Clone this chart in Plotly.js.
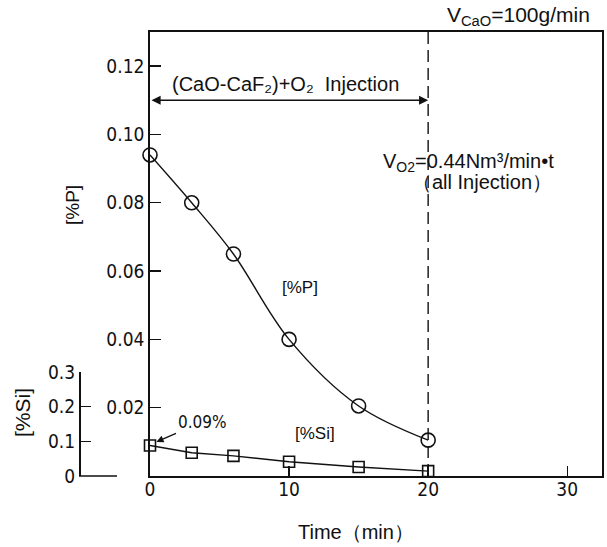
<!DOCTYPE html>
<html>
<head>
<meta charset="utf-8">
<script src="https://cdn.plot.ly/plotly-3.0.1.min.js"></script>
<style>html,body{margin:0;padding:0;background:#fff;}#chart{width:607px;height:547px;}</style>
</head>
<body>
<div id="chart"></div>
<script>
// ---- data ----
const time = [0, 3, 6, 10, 15, 20];
const phosphorus = [0.094, 0.080, 0.065, 0.040, 0.0205, 0.0105];
const silicon = [0.088, 0.067, 0.058, 0.041, 0.026, 0.014];
const timeTicks = [0, 10, 20, 30];
const timeTickText = ['0', '10', '20', '30'];
const pTicks = [0.02, 0.04, 0.06, 0.08, 0.10, 0.12];
const pTickText = ['0.02', '0.04', '0.06', '0.08', '0.10', '0.12'];
const siTicks = [0, 0.1, 0.2, 0.3];
const siTickText = ['0', '0.1', '0.2', '0.3'];
const injectionEnd = 20;
const injectionLevel = 0.11;
const siStart = 0.09;

// ---- layout helpers (pixel -> paper) ----
const M = {l: 60, r: 5, t: 32, b: 71};
const W = 607, H = 547;
const pw = W - M.l - M.r, ph = H - M.t - M.b;
const px = x => (x - M.l) / pw;
const py = y => (H - M.b - y) / ph;

const NARROW = '"Liberation Sans Narrow", "DejaVu Sans Condensed", "Arial Narrow", sans-serif';
const SANS = '"Liberation Sans", Arial, sans-serif';
const BLACK = '#111';

const traces = [
  {
    x: time, y: phosphorus, xaxis: 'x', yaxis: 'y',
    type: 'scatter', mode: 'lines+markers',
    line: {color: BLACK, width: 1.4, shape: 'spline', smoothing: 1},
    marker: {symbol: 'circle-open', size: 14, color: BLACK, line: {width: 1.6, color: BLACK}},
    cliponaxis: false, hoverinfo: 'skip'
  },
  {
    x: time, y: silicon, xaxis: 'x', yaxis: 'y2',
    type: 'scatter', mode: 'lines+markers',
    line: {color: BLACK, width: 1.4},
    marker: {symbol: 'square-open', size: 11, color: BLACK, line: {width: 1.6, color: BLACK}},
    cliponaxis: false, hoverinfo: 'skip'
  }
];

const layout = {
  width: W, height: H,
  margin: M,
  paper_bgcolor: '#fff', plot_bgcolor: 'rgba(0,0,0,0)',
  showlegend: false,
  font: {family: SANS, color: BLACK},
  xaxis: {
    domain: [px(150), 1], range: [0, 32.5], anchor: 'y',
    showline: true, linecolor: BLACK, linewidth: 1.8, mirror: true,
    ticks: 'inside', ticklen: 10, tickwidth: 1.4, tickcolor: BLACK,
    tickvals: timeTicks, ticktext: timeTickText,
    tickfont: {family: NARROW, size: 19, color: BLACK},
    ticklabelstandoff: -5,
    showgrid: false, zeroline: false
  },
  yaxis: {
    domain: [0, 1], range: [0, 0.13], anchor: 'x',
    showline: true, linecolor: BLACK, linewidth: 1.8, mirror: true,
    ticks: 'inside', ticklen: 11, tickwidth: 1.4, tickcolor: BLACK,
    tickvals: pTicks, ticktext: pTickText,
    tickfont: {family: NARROW, size: 19, color: BLACK},
    showgrid: false, zeroline: false
  },
  yaxis2: {
    domain: [0, py(372)], range: [0, 0.3], anchor: 'free', position: px(79), side: 'left',
    showline: true, linecolor: BLACK, linewidth: 1.6,
    ticks: 'inside', ticklen: 10, tickwidth: 1.4, tickcolor: BLACK,
    tickvals: siTicks, ticktext: siTickText,
    tickfont: {family: NARROW, size: 19, color: BLACK},
    showgrid: false, zeroline: false
  },
  shapes: [
    {type: 'line', xref: 'x', yref: 'paper', x0: injectionEnd, x1: injectionEnd, y0: 0, y1: 1,
     line: {color: BLACK, width: 1.4, dash: '12px,6px'}},
    {type: 'line', xref: 'paper', yref: 'paper', x0: px(79), x1: px(117), y0: 0, y1: 0,
     line: {color: BLACK, width: 1.6}}
  ],
  annotations: [
    {x: injectionEnd, y: injectionLevel, xref: 'x', yref: 'y', ax: 0, ay: injectionLevel, axref: 'x', ayref: 'y',
     text: '', showarrow: true, arrowside: 'end+start', arrowhead: 2, startarrowhead: 2,
     arrowsize: 1.3, startarrowsize: 1.3, arrowwidth: 1.4, arrowcolor: BLACK, standoff: 0, startstandoff: 0},
    {x: px(170), y: py(84), xref: 'paper', yref: 'paper', xanchor: 'left', yanchor: 'middle', showarrow: false,
     text: '(CaO-CaF\u2082)+O\u2082\u00a0\u00a0Injection', font: {family: SANS, size: 20, color: BLACK}},
    {x: px(592), y: py(16), xref: 'paper', yref: 'paper', xanchor: 'right', yanchor: 'middle', showarrow: false,
     text: 'V<sub>CaO</sub>=100g/min', font: {family: SANS, size: 21, color: BLACK}},
    {x: px(556), y: py(162), xref: 'paper', yref: 'paper', xanchor: 'right', yanchor: 'middle', showarrow: false,
     text: 'V<sub>O2</sub>=0.44Nm\u00b3/min\u2022t', font: {family: SANS, size: 20, color: BLACK}},
    {x: px(482), y: py(182), xref: 'paper', yref: 'paper', xanchor: 'center', yanchor: 'middle', showarrow: false,
     text: '\uff08all Injection\uff09', font: {family: SANS, size: 20, color: BLACK}},
    {x: px(300), y: py(287), xref: 'paper', yref: 'paper', xanchor: 'center', yanchor: 'middle', showarrow: false,
     text: '[%P]', font: {family: SANS, size: 17, color: BLACK}},
    {x: px(315), y: py(433), xref: 'paper', yref: 'paper', xanchor: 'center', yanchor: 'middle', showarrow: false,
     text: '[%Si]', font: {family: SANS, size: 17, color: BLACK}},
    {x: 0, y: siStart, xref: 'x', yref: 'y2', ax: 52, ay: -23, text: '0.09%', showarrow: true,
     arrowhead: 2, arrowsize: 1.1, arrowwidth: 1.3, arrowcolor: BLACK, standoff: 7,
     font: {family: NARROW, size: 17, color: BLACK}},
    {x: px(72), y: py(205), xref: 'paper', yref: 'paper', xanchor: 'center', yanchor: 'middle', showarrow: false,
     text: '[%P]', textangle: -90, font: {family: SANS, size: 19, color: BLACK}},
    {x: px(22), y: py(413), xref: 'paper', yref: 'paper', xanchor: 'center', yanchor: 'middle', showarrow: false,
     text: '[%Si]', textangle: -90, font: {family: SANS, size: 21, color: BLACK}},
    {x: px(356), y: py(532), xref: 'paper', yref: 'paper', xanchor: 'center', yanchor: 'middle', showarrow: false,
     text: 'Time\uff08min\uff09', font: {family: SANS, size: 20, color: BLACK}}
  ]
};

Plotly.newPlot('chart', traces, layout, {staticPlot: true, displayModeBar: false});
</script>
</body>
</html>
